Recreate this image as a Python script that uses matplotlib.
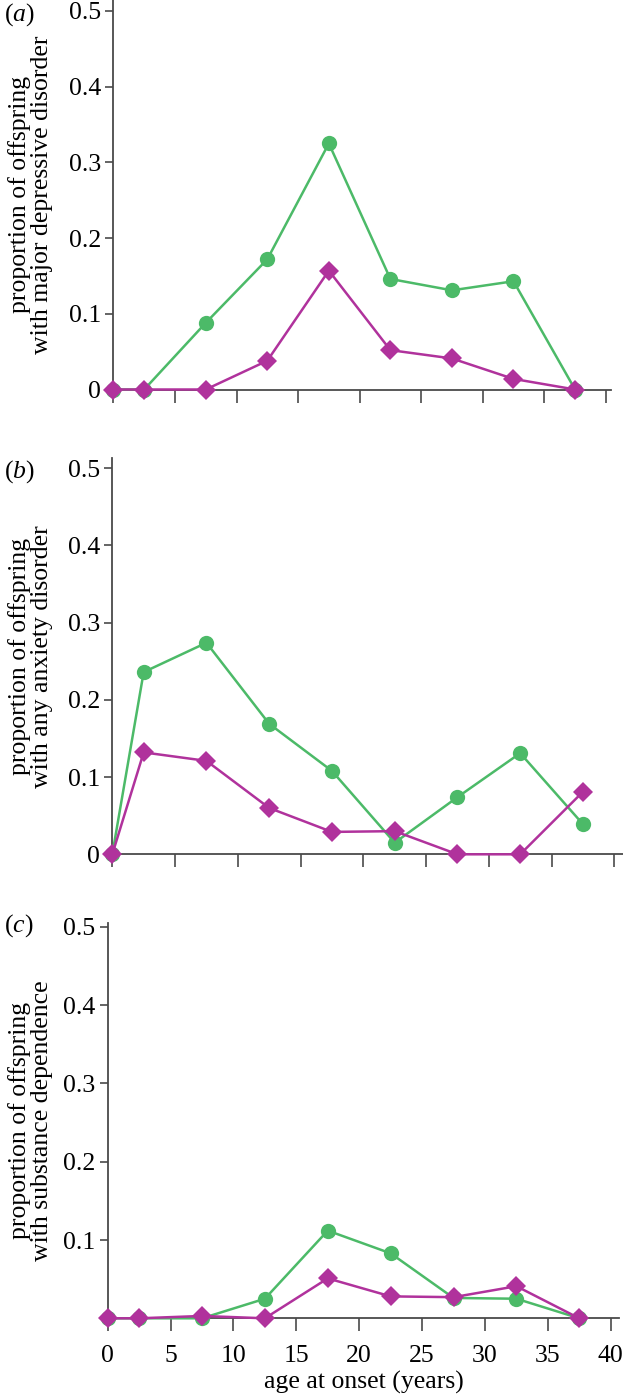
import matplotlib
matplotlib.use("Agg")
import matplotlib.pyplot as plt

plt.rcParams['font.family'] = ['Liberation Serif', 'DejaVu Serif']
plt.rcParams['mathtext.fontset'] = 'custom'
plt.rcParams['mathtext.rm'] = 'Liberation Serif'
plt.rcParams['mathtext.it'] = 'Liberation Serif:italic'

# ---- data ----
age = [0, 2.5, 7.5, 12.5, 17.5, 22.5, 27.5, 32.5, 37.5]

mdd_green = [0, 0, 0.088, 0.172, 0.325, 0.146, 0.131, 0.143, 0]
mdd_magenta = [0, 0, 0, 0.038, 0.157, 0.052, 0.041, 0.014, 0]

anx_green = [0, 0.236, 0.274, 0.169, 0.108, 0.015, 0.074, 0.131, 0.039]
anx_magenta = [0, 0.132, 0.121, 0.060, 0.029, 0.030, 0, 0, 0.081]

sub_green = [0, 0, 0, 0.025, 0.112, 0.083, 0.026, 0.025, 0]
sub_magenta = [0, 0, 0.003, 0, 0.051, 0.028, 0.027, 0.041, 0]

panel_labels = ['a', 'b', 'c']
ylabels = ['proportion of offspring\nwith major depressive disorder',
           'proportion of offspring\nwith any anxiety disorder',
           'proportion of offspring\nwith substance dependence']
xlabel = 'age at onset (years)'
xticks = [0, 5, 10, 15, 20, 25, 30, 35, 40]

GREEN = '#4cba68'
MAGENTA = '#b0329c'
SPINE = '#4a4a4a'
FS = 18.5

W, H = 623, 1397
fig = plt.figure(figsize=(W / 100, H / 100), dpi=100)


def rect(l, r, t, b):
    return [l / W, 1 - b / H, (r - l) / W, (b - t) / H]


panels = [
    dict(r=rect(113.4, 611, 0, 389.5), xmax=40.42, ymax=0.5145,
         yt=[0, 0.1, 0.2, 0.3, 0.4, 0.5], ytl=['0', '0.1', '0.2', '0.3', '0.4', '0.5'],
         g=mdd_green, m=mdd_magenta, lab_y=15),
    dict(r=rect(112.3, 623, 458, 854.3), xmax=40.69, ymax=0.5133,
         yt=[0, 0.1, 0.2, 0.3, 0.4, 0.5], ytl=['0', '0.1', '0.2', '0.3', '0.4', '0.5'],
         g=anx_green, m=anx_magenta, lab_y=472),
    dict(r=rect(107.7, 619, 923, 1318.3), xmax=40.66, ymax=0.505,
         yt=[0.1, 0.2, 0.3, 0.4, 0.5], ytl=['0.1', '0.2', '0.3', '0.4', '0.5'],
         g=sub_green, m=sub_magenta, lab_y=926),
]

for i, p in enumerate(panels):
    ax = fig.add_axes(p['r'])
    ax.plot(age, p['g'], color=GREEN, lw=1.8, marker='o', ms=11,
            markeredgewidth=0, clip_on=False, zorder=3)
    ax.plot(age, p['m'], color=MAGENTA, lw=1.8, marker='D', ms=10,
            markeredgewidth=0, clip_on=False, zorder=4)
    ax.set_xlim(0, p['xmax'])
    ax.set_ylim(0, p['ymax'])
    for s in ['top', 'right']:
        ax.spines[s].set_visible(False)
    for s in ['left', 'bottom']:
        ax.spines[s].set_color(SPINE)
        ax.spines[s].set_linewidth(1.3)
    ax.set_yticks(p['yt'])
    ax.set_yticklabels(p['ytl'], fontsize=FS)
    ax.set_xticks(xticks)
    if i == 2:
        ax.set_xticklabels([str(t) for t in xticks], fontsize=FS)
    else:
        ax.set_xticklabels([])
    ax.tick_params(axis='y', direction='out', length=6, width=1.2, color=SPINE, pad=3)
    ax.tick_params(axis='x', direction='out', length=9, width=1.2, color=SPINE, pad=10)
    # y label
    bb = p['r']
    yc = bb[1] + bb[3] / 2
    fig.text(31 / W, yc, ylabels[i], rotation=90, ha='center', va='center',
             fontsize=FS, multialignment='center', linespacing=1.0)
    fig.text(4 / W, 1 - p['lab_y'] / H, r'($\mathit{%s}$)' % panel_labels[i],
             ha='left', va='center', fontsize=FS)

fig.text(364 / W, 1 - 1382 / H, xlabel, ha='center', va='center', fontsize=FS)

fig.savefig('out.png', dpi=100)
